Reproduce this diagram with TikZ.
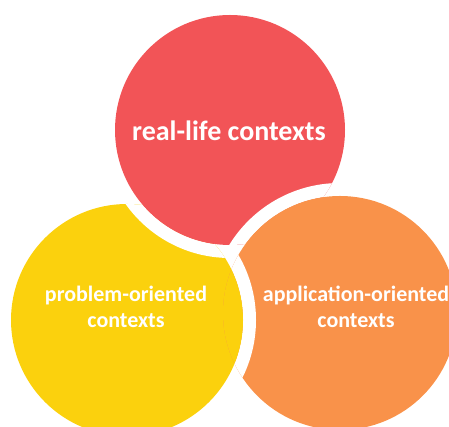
\documentclass[tikz,border=0pt]{standalone}
\usepackage{fontspec}
\setmainfont{Carlito}
\definecolor{reallife}{HTML}{F25457}
\definecolor{problem}{HTML}{FBD10D}
\definecolor{application}{HTML}{F9924A}
\begin{document}
\begin{tikzpicture}[x=0.75pt,y=0.75pt,
  ctxtext/.style={text=white,font=\bfseries\fontsize{16.5}{19.5}\selectfont,
    align=center,inner sep=0pt},
  bigtext/.style={ctxtext,font=\bfseries\fontsize{21}{25}\selectfont},
  halo/.style={fill=white,even odd rule}]
\useasboundingbox (0,0) rectangle (449,427);
\clip (0,0) rectangle (449,427);
% circle centres
\coordinate (R) at (230,297);
\coordinate (Y) at (127,107);
\coordinate (O) at (340,114);
% base discs
\fill[problem] (Y) circle[radius=116];
\fill[reallife] (R) circle[radius=115];
\fill[application] (O) circle[radius=117];
% red lies over yellow
\begin{scope}
  \clip (Y) circle[radius=116];
  \path[halo] (R) circle[radius=128] (R) circle[radius=115];
  \fill[reallife] (R) circle[radius=115];
\end{scope}
% orange lies over red
\begin{scope}
  \clip (R) circle[radius=115];
  \path[halo] (O) circle[radius=130] (O) circle[radius=117];
  \fill[application] (O) circle[radius=117];
\end{scope}
% yellow lies over orange
\begin{scope}
  \clip (O) circle[radius=117];
  \path[halo] (Y) circle[radius=129] (Y) circle[radius=116];
  \fill[problem] (Y) circle[radius=116];
\end{scope}
% labels
\node[bigtext,anchor=base] (tR) at (229,286) {real-life contexts};
\node[ctxtext,anchor=base] (tY) at (126,99) {problem-oriented\\contexts};
\node[ctxtext,anchor=base] (tO) at (356,99) {application-oriented\\contexts};
\end{tikzpicture}
\end{document}
